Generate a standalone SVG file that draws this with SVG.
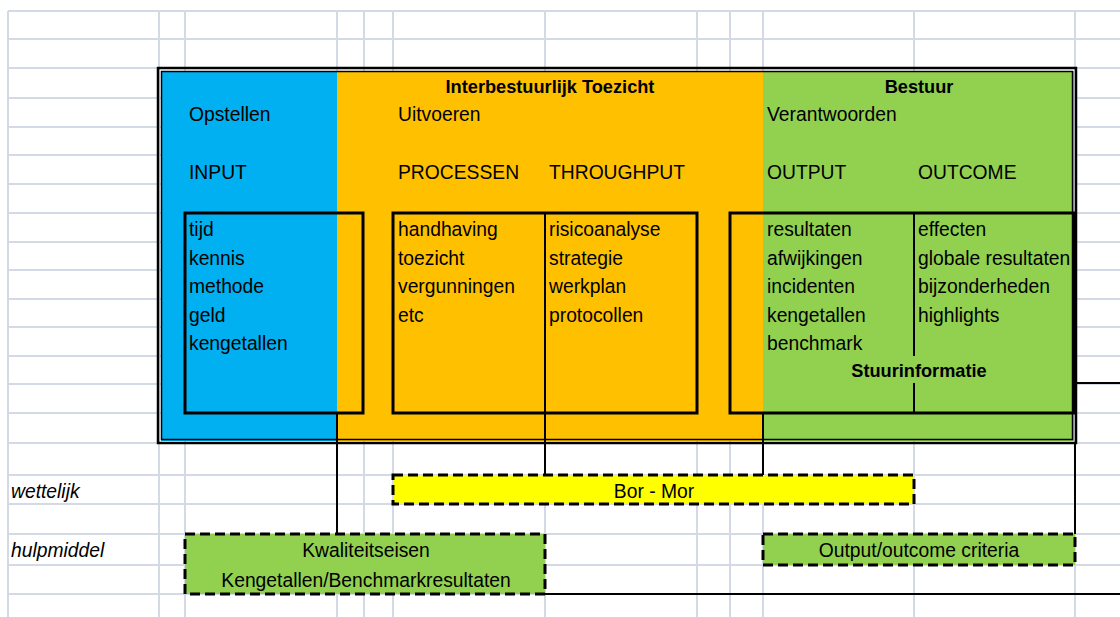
<svg xmlns="http://www.w3.org/2000/svg" width="1120" height="617" viewBox="0 0 1120 617">
  <style>
    .grid { stroke: #d3dae6; stroke-width: 2; fill: none; }
    .t { font-family: "Liberation Sans", Arial, sans-serif; font-size: 19.3px; fill: #000; }
    .b { font-weight: bold; font-size: 18.2px; }
    .i { font-style: italic; }
    .m { text-anchor: middle; }
    .box { fill: none; stroke: #000; stroke-width: 3; }
    .div { stroke: #000; stroke-width: 2; fill: none; }
    .conn { stroke: #000; stroke-width: 2; fill: none; }
    .dash { stroke: #000; stroke-width: 3; stroke-dasharray: 10 5; }
  </style>
  <rect width="1120" height="617" fill="#fff"/>

  <!-- spreadsheet grid -->
  <g id="grid" class="grid">
    <path d="M8 11H1120M8 39H1120M8 68H1120M8 98H1120M8 127H1120M8 155H1120M8 184H1120M8 213H1120M8 242H1120M8 270H1120M8 299H1120M8 327H1120M8 356H1120M8 384H1120M8 413H1120M8 443H1120M8 475H1120M8 504H1120M8 534H1120M8 565H1120M8 594H1120"/>
    <path d="M8 11V617M159 11V617M185 11V617M337 11V617M364 11V617M393 11V617M545 11V617M697 11V617M730 11V617M763 11V617M914 11V617M1075 11V617"/>
  </g>

  <!-- main frame with coloured phases -->
  <g id="frame">
    <rect x="161" y="71" width="176" height="370" fill="#00b0f0"/>
    <rect x="337" y="71" width="426" height="370" fill="#ffc000"/>
    <rect x="763" y="71" width="311" height="370" fill="#92d050"/>
    <rect x="158" y="68" width="918" height="375" fill="none" stroke="#000" stroke-width="2.5"/>
    <rect x="161.5" y="71.5" width="911" height="368" fill="none" stroke="#000" stroke-width="1.5"/>
  </g>

  <g id="headers">
    <text class="t b m" x="550" y="92.5">Interbestuurlijk Toezicht</text>
    <text class="t b m" x="919" y="92.5">Bestuur</text>
    <text class="t" x="189" y="121">Opstellen</text>
    <text class="t" x="398" y="121">Uitvoeren</text>
    <text class="t" x="767" y="121">Verantwoorden</text>
    <text class="t" x="189" y="178.5">INPUT</text>
    <text class="t" x="398" y="178.5">PROCESSEN</text>
    <text class="t" x="549" y="178.5">THROUGHPUT</text>
    <text class="t" x="767" y="178.5">OUTPUT</text>
    <text class="t" x="918" y="178.5">OUTCOME</text>
  </g>

  <g id="input">
    <rect class="box" x="185" y="213" width="178" height="200"/>
    <text class="t" x="189" y="236">tijd</text>
    <text class="t" x="189" y="264.5">kennis</text>
    <text class="t" x="189" y="293">methode</text>
    <text class="t" x="189" y="321.5">geld</text>
    <text class="t" x="189" y="350">kengetallen</text>
  </g>

  <g id="processen-throughput">
    <rect class="box" x="393" y="213" width="304" height="200"/>
    <path class="div" d="M545 213V413"/>
    <text class="t" x="398" y="236">handhaving</text>
    <text class="t" x="398" y="264.5">toezicht</text>
    <text class="t" x="398" y="293">vergunningen</text>
    <text class="t" x="398" y="321.5">etc</text>
    <text class="t" x="549" y="236">risicoanalyse</text>
    <text class="t" x="549" y="264.5">strategie</text>
    <text class="t" x="549" y="293">werkplan</text>
    <text class="t" x="549" y="321.5">protocollen</text>
  </g>

  <g id="output-outcome">
    <rect class="box" x="730" y="213" width="344" height="200"/>
    <path class="div" d="M914 213V356M914 383V413"/>
    <text class="t" x="767" y="236">resultaten</text>
    <text class="t" x="767" y="264.5">afwijkingen</text>
    <text class="t" x="767" y="293">incidenten</text>
    <text class="t" x="767" y="321.5">kengetallen</text>
    <text class="t" x="767" y="350">benchmark</text>
    <text class="t" x="918" y="236">effecten</text>
    <text class="t" x="918" y="264.5">globale resultaten</text>
    <text class="t" x="918" y="293">bijzonderheden</text>
    <text class="t" x="918" y="321.5">highlights</text>
    <text class="t b m" x="919" y="377">Stuurinformatie</text>
  </g>

  <!-- connecting lines -->
  <g id="connectors" class="conn">
    <path d="M337 413V534"/>
    <path d="M545 413V475"/>
    <path d="M763 413V475"/>
    <path d="M1075 443V534"/>
    <path d="M545 594H1120"/>
    <path d="M1075 383H1120"/>
  </g>

  <g id="row-labels">
    <text class="t i" x="11" y="498">wettelijk</text>
    <text class="t i" x="11" y="557">hulpmiddel</text>
  </g>

  <g id="bor-mor">
    <rect class="dash" x="393" y="475" width="521" height="29" fill="#ffff00"/>
    <text class="t m" x="654" y="498">Bor - Mor</text>
  </g>

  <g id="kwaliteitseisen">
    <rect class="dash" x="185" y="534" width="360" height="60" fill="#92d050"/>
    <text class="t m" x="366" y="557">Kwaliteitseisen</text>
    <text class="t m" x="366" y="586.5">Kengetallen/Benchmarkresultaten</text>
  </g>

  <g id="criteria">
    <rect class="dash" x="763" y="534" width="312" height="31" fill="#92d050"/>
    <text class="t m" x="919" y="557">Output/outcome criteria</text>
  </g>
</svg>
